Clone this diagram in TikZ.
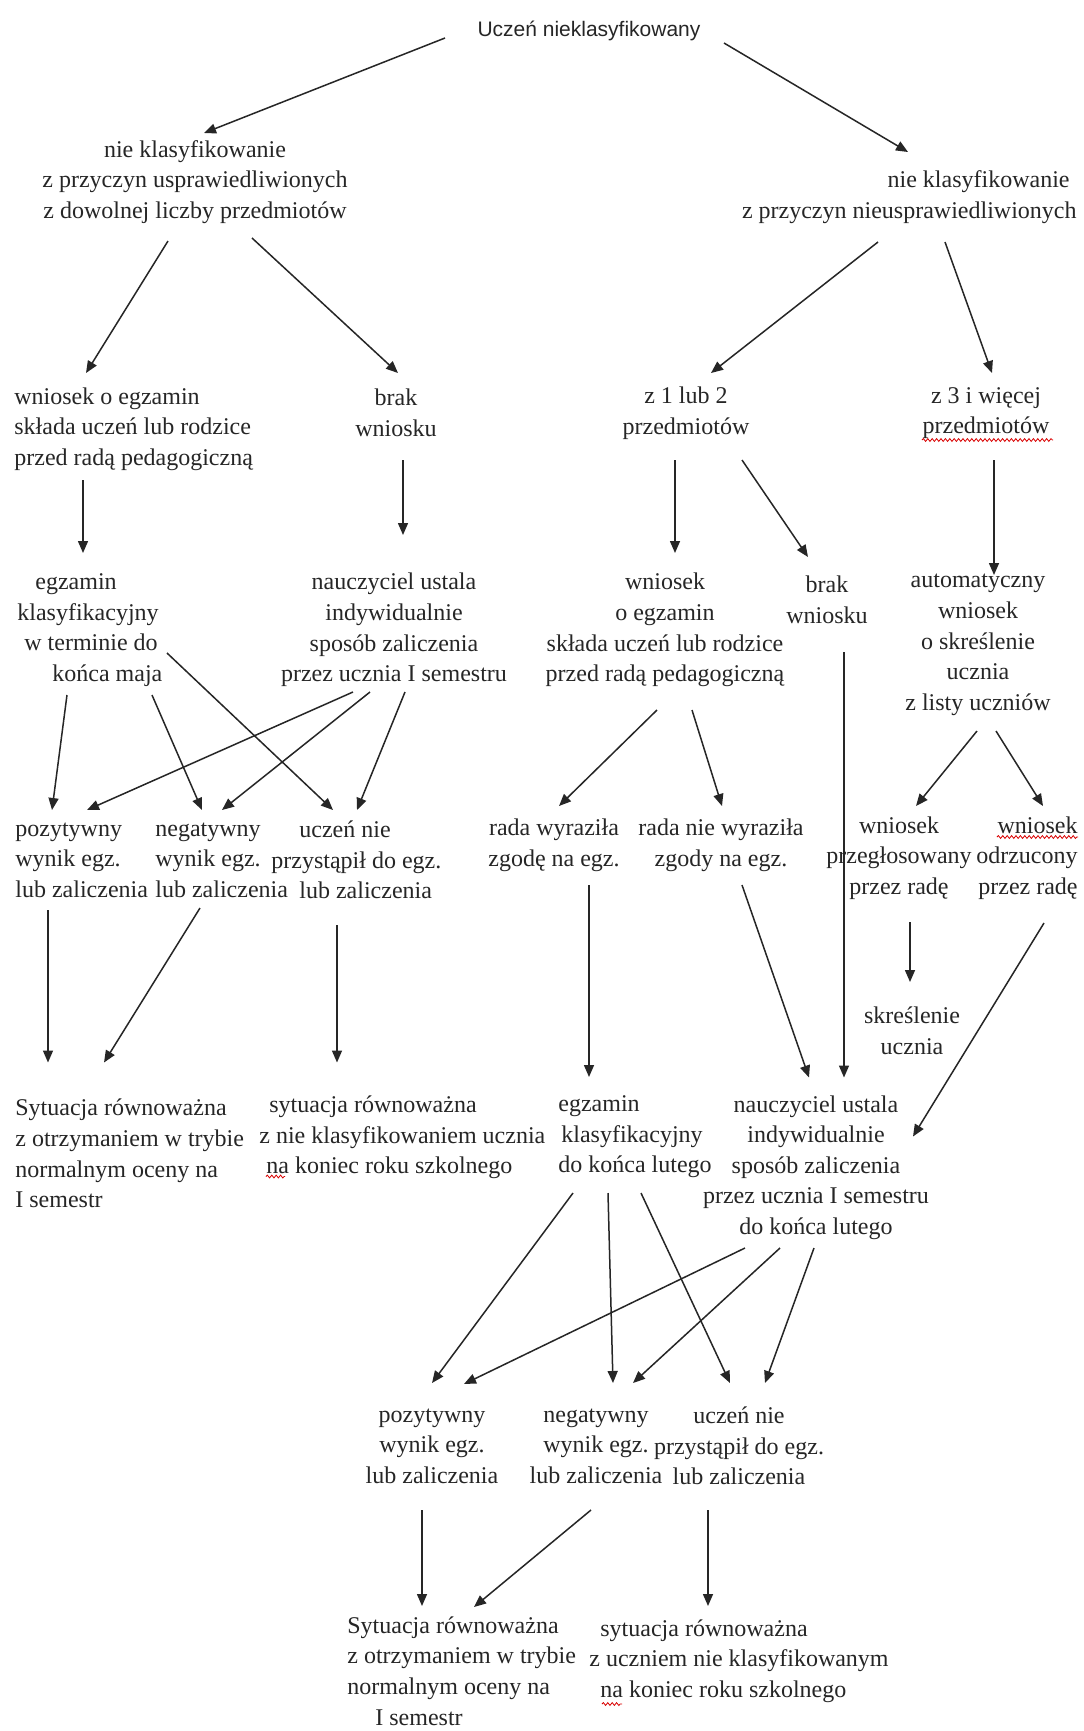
\documentclass[tikz,border=0pt]{standalone}
\usepackage{fontspec}
\setmainfont{Liberation Serif}
\newfontfamily\topsans{Liberation Sans}
\usetikzlibrary{arrows.meta,calc,decorations.pathmorphing}
\begin{document}
\begin{tikzpicture}[x=0.5pt,y=-0.5pt,
  txt/.style={inner sep=0pt,align=center,text=black!85,font=\fontsize{12}{15.3}\selectfont},
  txtl/.style={txt,align=left,anchor=west},
  txtr/.style={txt,align=right,anchor=east},
  arr/.style={-{Triangle[length=6pt,width=5pt]},line width=0.75pt,draw=black!85},
  spell/.style={draw=red!85!black,line width=0.4pt,decorate,decoration={snake,segment length=2.2pt,amplitude=0.7pt}}]
\useasboundingbox[fill=white] (0,0) rectangle (1083,1731);

% nodes
\node[inner sep=0pt,text=black!85,font=\topsans\fontsize{10.5}{12}\selectfont] (n0) at (589,31) {Uczeń nieklasyfikowany};
\node[txt] (n1) at (195,182) {nie klasyfikowanie\\z przyczyn usprawiedliwionych\\z dowolnej liczby przedmiotów};
\node[txtr] (n2) at (1077,197) {nie klasyfikowanie\hspace*{3.5pt}\\z przyczyn nieusprawiedliwionych};
\node[txtl] (n3) at (14,429) {wniosek o egzamin\\składa uczeń lub rodzice\\przed radą pedagogiczną};
\node[txt] (n4) at (396,413) {brak\\wniosku};
\node[txt] (n5) at (686,413) {z 1 lub 2\\przedmiotów};
\node[txt] (n6) at (986,413) {z 3 i więcej\\przedmiotów};
\node[txtl] (n7) at (17,630) {\hspace*{9pt}egzamin\\klasyfikacyjny\\\hspace*{3.5pt}w terminie do\\\hspace*{17.5pt}końca maja};
\node[txt] (n8) at (394,630) {nauczyciel ustala\\indywidualnie\\sposób zaliczenia\\przez ucznia I semestru};
\node[txt] (n9) at (665,630) {wniosek\\o egzamin\hspace*{8pt}\\składa uczeń lub rodzice\\przed radą pedagogiczną};
\node[txt] (n10) at (827,600) {brak\\wniosku};
\node[txt] (n11) at (978,645) {automatyczny\\wniosek\\o skreślenie\hspace*{11pt}\\ucznia\\z listy uczniów};
\node[txtl] (n12) at (15,860) {pozytywny\\wynik egz.\\lub zaliczenia};
\node[txtl] (n13) at (155,860) {negatywny\\wynik egz.\\lub zaliczenia};
\node[txtl] (n14) at (299,860) {uczeń nie\\\hspace*{-14pt}przystąpił do egz.\\lub zaliczenia};
\node[txt] (n15) at (554,845) {rada wyraziła\\zgodę na egz.};
\node[txt] (n16) at (721,845) {rada nie wyraziła\\zgody na egz.};
\node[txt] (n17) at (899,858) {wniosek\\przegłosowany\\przez radę};
\node[txtr] (n18) at (1078,858) {wniosek\\odrzucony\\przez radę};
\node[txt] (n19) at (912,1031) {skreślenie\\ucznia};
\node[txtl] (n20) at (15,1153.5) {Sytuacja równoważna\\z otrzymaniem w trybie\\normalnym oceny na\\I semestr};
\node[txtl] (n21) at (259,1137.5) {\hspace*{5pt}sytuacja równoważna\\z nie klasyfikowaniem ucznia\\\hspace*{3.5pt}na koniec roku szkolnego};
\node[txtl] (n22) at (558,1137) {egzamin\\\hspace*{1.5pt}klasyfikacyjny\\do końca lutego};
\node[txt] (n23) at (816,1167.5) {nauczyciel ustala\\indywidualnie\\sposób zaliczenia\\przez ucznia I semestru\\do końca lutego};
\node[txt] (n24) at (432,1446) {pozytywny\\wynik egz.\\lub zaliczenia};
\node[txt] (n25) at (596,1446) {negatywny\\wynik egz.\\lub zaliczenia};
\node[txt] (n26) at (739,1446) {uczeń nie\\przystąpił do egz.\\lub zaliczenia};
\node[txtl] (n27) at (347,1671) {Sytuacja równoważna\\z otrzymaniem w trybie\\normalnym oceny na\\\hspace*{14pt}I semestr};
\node[txtl] (n28) at (600,1661) {sytuacja równoważna\\\hspace*{-5.5pt}z uczniem nie klasyfikowanym\\na koniec roku szkolnego};

% spelling marks
\draw[spell] ($(n6)+(-64,27)$) -- ($(n6)+(67,27)$);
\draw[spell] ($(n18.east)+(-81,-21)$) -- ($(n18.east)+(0,-21)$);
\draw[spell] ($(n21.west)+(7,39)$) -- ($(n21.west)+(26,39)$);
\draw[spell] ($(n28.west)+(2,43)$) -- ($(n28.west)+(22,43)$);

% connectors
\draw[arr] ($(n0)+(-144,7)$) -- ($(n1)+(9,-49)$);
\draw[arr] ($(n0)+(135,12)$) -- ($(n2.east)+(-169,-45)$);
\draw[arr] ($(n1)+(-27,59)$) -- ($(n3.west)+(72,-56)$);
\draw[arr] ($(n1)+(57,56)$) -- ($(n4)+(2,-40)$);
\draw[arr] ($(n2.east)+(-199,45)$) -- ($(n5)+(25,-40)$);
\draw[arr] ($(n2.east)+(-132,45)$) -- ($(n6)+(6,-40)$);
\draw[arr] ($(n3.west)+(69,51)$) -- ($(n7.west)+(66,-77)$);
\draw[arr] ($(n4)+(7,47)$) -- ($(n8)+(9,-95)$);
\draw[arr] ($(n5)+(-11,47)$) -- ($(n9)+(10,-77)$);
\draw[arr] ($(n5)+(56,47)$) -- ($(n10)+(-19,-43)$);
\draw[arr] ($(n6)+(8,47)$) -- ($(n11)+(16,-70)$);
\draw[arr] ($(n7.west)+(50,65)$) -- ($(n12.west)+(37,-50)$);
\draw[arr] ($(n7.west)+(135,65)$) -- ($(n13.west)+(47,-50)$);
\draw[arr] ($(n7.west)+(150,23)$) -- ($(n14.west)+(34,-50)$);
\draw[arr] ($(n8)+(-41,62)$) -- ($(n12.west)+(72,-50)$);
\draw[arr] ($(n8)+(-24,62)$) -- ($(n13.west)+(67,-50)$);
\draw[arr] ($(n8)+(11,62)$) -- ($(n14.west)+(58,-50)$);
\draw[arr] ($(n9)+(-8,80)$) -- ($(n15)+(5,-39)$);
\draw[arr] ($(n9)+(27,80)$) -- ($(n16)+(1,-39)$);
\draw[arr] ($(n10)+(17,52)$) -- ($(n23)+(28,-90)$);
\draw[arr] ($(n11)+(-1,86)$) -- ($(n17)+(17,-52)$);
\draw[arr] ($(n11)+(18,86)$) -- ($(n18.east)+(-35,-52)$);
\draw[arr] ($(n12.west)+(33,50)$) -- ($(n20.west)+(33,-91)$);
\draw[arr] ($(n13.west)+(45,48)$) -- ($(n20.west)+(89,-91)$);
\draw[arr] ($(n14.west)+(38,65)$) -- ($(n21.west)+(78,-75)$);
\draw[arr] ($(n15)+(35,40)$) -- ($(n22.west)+(31,-60)$);
\draw[arr] ($(n16)+(21,40)$) -- ($(n23)+(-7,-90)$);
\draw[arr] ($(n17)+(11,64)$) -- ($(n19)+(-2,-49)$);
\draw[arr] ($(n18.east)+(-34,65)$) -- ($(n23)+(97,-31)$);
\draw[arr] ($(n22.west)+(15,56)$) -- ($(n24)+(0,-63)$);
\draw[arr] ($(n22.west)+(50,56)$) -- ($(n25)+(17,-63)$);
\draw[arr] ($(n22.west)+(83,56)$) -- ($(n26)+(-9,-63)$);
\draw[arr] ($(n23)+(-71,80.5)$) -- ($(n24)+(32,-62)$);
\draw[arr] ($(n23)+(-36,80.5)$) -- ($(n25)+(37,-63)$);
\draw[arr] ($(n23)+(-2,80.5)$) -- ($(n26)+(26,-63)$);
\draw[arr] ($(n24)+(-10,64)$) -- ($(n27.west)+(75,-65)$);
\draw[arr] ($(n25)+(-5,64)$) -- ($(n27.west)+(127,-64)$);
\draw[arr] ($(n26)+(-31,64)$) -- ($(n28.west)+(108,-55)$);
\end{tikzpicture}
\end{document}
